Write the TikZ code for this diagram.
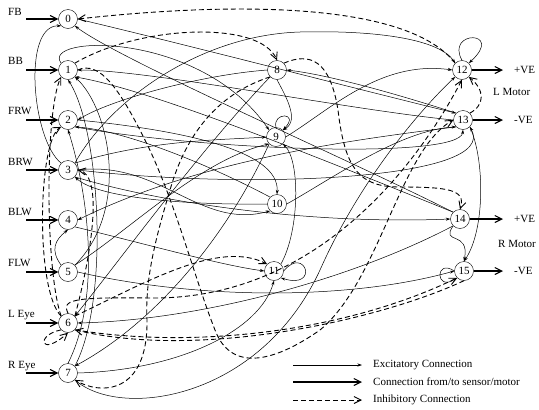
\documentclass[tikz,border=0pt]{standalone}
\usepackage{fontspec}
\setmainfont{Liberation Serif}
\usetikzlibrary{arrows.meta}

\begin{document}
\begin{tikzpicture}[
  x=1pt, y=-1pt,
  font=\fontsize{11}{13}\selectfont,
  neuron/.style={circle, draw, fill=white, minimum size=19pt, inner sep=0pt},
  excite/.style={-{Stealth[length=4.5pt,width=3pt]}, line width=0.5pt},
  sensor/.style={-{Straight Barb[length=7pt,width=7pt]}, line width=1.1pt},
  inhib/.style={-{Straight Barb[length=7pt,width=7pt]}, line width=0.9pt, dash pattern=on 5pt off 3pt},
  tag/.style={anchor=base west, inner sep=0pt}
]
\useasboundingbox (0,0) rectangle (539,410);

% --- sensor inputs (left column) ---
\node[neuron] (n0) at (68,19)  {0};
\node[neuron] (n1) at (68,70)  {1};
\node[neuron] (n2) at (68,120) {2};
\node[neuron] (n3) at (68,170) {3};
\node[neuron] (n4) at (68,220) {4};
\node[neuron] (n5) at (68,272) {5};
\node[neuron] (n6) at (68,323) {6};
\node[neuron] (n7) at (68,373) {7};

% --- hidden units ---
\node[neuron] (n8)  at (277,70)  {8};
\node[neuron] (n9)  at (276,137) {9};
\node[neuron] (n10) at (277,204) {10};
\node[neuron] (n11) at (274,271) {11};

% --- motor units ---
\node[neuron] (n12) at (462,70)  {12};
\node[neuron] (n13) at (463,120) {13};
\node[neuron] (n14) at (460,219) {14};
\node[neuron] (n15) at (464,271) {15};

% sensor labels and input arrows
\node[tag] (fb)   at (8,15)  {FB};
\node[tag] (bb)   at (8,64)  {BB};
\node[tag] (frw)  at (8,114) {FRW};
\node[tag] (brw)  at (8,165) {BRW};
\node[tag] (blw)  at (8,215) {BLW};
\node[tag] (flw)  at (8,266) {FLW};
\node[tag] (leye) at (8,317) {L Eye};
\node[tag] (reye) at (8,368) {R Eye};
\coordinate (s0) at (26,19);
\coordinate (s1) at (26,70);
\coordinate (s2) at (26,120);
\coordinate (s3) at (26,170);
\coordinate (s4) at (26,220);
\coordinate (s5) at (26,272);
\coordinate (s6) at (26,323);
\coordinate (s7) at (26,373);
\draw[sensor] (s0) -- (n0);
\draw[sensor] (s1) -- (n1);
\draw[sensor] (s2) -- (n2);
\draw[sensor] (s3) -- (n3);
\draw[sensor] (s4) -- (n4);
\draw[sensor] (s5) -- (n5);
\draw[sensor] (s6) -- (n6);
\draw[sensor] (s7) -- (n7);

% motor outputs
\coordinate (m12) at (503,70);
\coordinate (m13) at (503,120);
\coordinate (m14) at (503,219);
\coordinate (m15) at (503,271);
\draw[sensor] (n12) -- (m12);
\draw[sensor] (n13) -- (m13);
\draw[sensor] (n14) -- (m14);
\draw[sensor] (n15) -- (m15);
\node[anchor=west, inner sep=0pt] (lp) at (514,70)  {+VE};
\node[anchor=west, inner sep=0pt] (ln) at (514,120) {-VE};
\node[anchor=west, inner sep=0pt] (rp) at (514,219) {+VE};
\node[anchor=west, inner sep=0pt] (rn) at (514,271) {-VE};
\node[anchor=west, inner sep=0pt] (lmotor) at (493,92)  {L Motor};
\node[anchor=west, inner sep=0pt] (rmotor) at (498,244) {R Motor};

% --- excitatory connections ---
\draw[excite] (n0.east) .. controls (200,48) and (380,95) .. (n13.north west);
\draw[excite] (n14.north west) .. controls (350,160) and (120,60) .. (n0.south east);
\draw[excite] (n3.north west) .. controls (32,140) and (22,25) .. (n0.south west);
\draw[excite] (n1.north west) .. controls (40,35) and (200,30) .. (n9.north west);
\draw[excite] (n8.west) .. controls (200,75) and (110,100) .. (n2.east);
\draw[excite] (n13.west) .. controls (350,110) and (150,70) .. (n1.east);
\draw[excite] (n14.north west) .. controls (300,150) and (150,90) .. (n1.south east);
\draw[excite] (n7.north east) .. controls (110,300) and (100,130) .. (n1.south);
\draw[excite] (n5.north east) .. controls (130,210) and (110,110) .. (n1.south east);
\draw[excite] (n3.north east) .. controls (110,100) and (200,35) .. (300,32) .. controls (380,30) and (440,40) .. (n12.north west);
\draw[excite] (n2.east) .. controls (180,130) and (280,150) .. (n10.north);
\draw[excite] (n8.south) .. controls (285,95) and (300,120) .. (n9.north east);
\draw[excite] (n3.north east) .. controls (150,140) and (220,140) .. (n9.west);
\draw[excite] (n10.west) .. controls (200,205) and (100,200) .. (n3.south east);
\draw[excite] (n3.east) .. controls (160,160) and (200,230) .. (n10.south west);
\draw[excite] (n13.south west) .. controls (350,140) and (200,160) .. (n4.east);
\draw[excite] (n4.south east) .. controls (150,245) and (220,265) .. (n11.west);
\draw[excite] (n3.south east) .. controls (150,200) and (300,225) .. (n14.west);
\draw[excite] (n5.north east) .. controls (130,230) and (200,160) .. (n9.south west);
\draw[excite] (n9.south west) .. controls (230,230) and (160,320) .. (n7.north east);
\draw[excite] (n7.south east) .. controls (120,420) and (260,400) .. (320,270) .. controls (360,180) and (420,110) .. (n12.south west);
\draw[excite] (n7.east) .. controls (180,370) and (260,330) .. (n11.south);
\draw[excite] (n14.south west) .. controls (350,280) and (200,320) .. (n6.east);
\draw[excite] (n5.east) .. controls (200,300) and (350,300) .. (n15.west);
\draw[excite] (n10.east) .. controls (330,180) and (400,130) .. (n13.south west);
\draw[excite] (n11.north east) .. controls (300,230) and (300,160) .. (n9.south east);
\draw[excite] (n13.south east) .. controls (485,160) and (485,230) .. (n15.north);
\draw[excite] (n14.south west) .. controls (440,245) and (470,230) .. (n15.north);
\draw[excite] (n2.south east) .. controls (200,150) and (460,160) .. (n13.south);
\draw[excite] (n3.east) .. controls (250,190) and (500,180) .. (n13.south east);
\draw[excite] (n9.east) .. controls (330,110) and (380,60) .. (n12.west);
\draw[excite] (n13.north west) .. controls (400,95) and (330,75) .. (n8.east);
\draw[excite] (n8.south west) .. controls (200,150) and (120,260) .. (n6.north east);
\draw[excite] (n10.north west) .. controls (200,160) and (120,130) .. (n2.south east);
\draw[excite] (n5.north west) .. controls (50,250) and (55,240) .. (n4.south);
\draw[excite] (n7.north) .. controls (100,300) and (90,200) .. (n2.south);
% self loops
\draw[excite] (n12.north) .. controls (445,30) and (505,30) .. (n12.north east);
\draw[excite] (n11.east) .. controls (305,245) and (320,290) .. (n11.south east);
\draw[excite] (n15.west) .. controls (435,258) and (435,292) .. (n15.south west);
\draw[excite] (n9.north) .. controls (272,112) and (300,112) .. (n9.north east);

% --- inhibitory connections ---
\draw[inhib] (n12.north west) .. controls (410,5) and (250,0) .. (n0.east);
\draw[inhib] (n1.north east) .. controls (140,25) and (260,20) .. (n8.north);
\draw[inhib] (n8.north east) .. controls (310,52) and (330,60) .. (338,110) .. controls (345,170) and (360,187) .. (400,187) .. controls (450,187) and (466,190) .. (n14.north);
\draw[inhib] (n8.south west) .. controls (230,90) and (190,120) .. (170,190) .. controls (155,240) and (145,280) .. (147,320) .. controls (148,395) and (100,395) .. (n7.south east);
\draw[inhib] (n1.east) .. controls (100,60) and (120,90) .. (145,140) .. controls (175,200) and (195,280) .. (215,330) .. controls (230,370) and (270,365) .. (320,330) .. controls (380,280) and (400,150) .. (n13.west);
\draw[inhib] (n6.north west) .. controls (35,290) and (38,140) .. (n2.south west);
\draw[inhib] (n6.north west) .. controls (45,270) and (45,110) .. (n1.south west);
\draw[inhib] (n6.south west) .. controls (35,335) and (40,358) .. (n6.south);
\draw[inhib] (n6.north east) .. controls (150,280) and (220,240) .. (n11.north west);
\draw[inhib] (n6.north) .. controls (62,300) and (70,297) .. (150,298) .. controls (320,300) and (420,160) .. (n12.south);
\draw[inhib] (n6.south east) .. controls (200,350) and (350,330) .. (n15.south west);
\draw[inhib] (n15.south) .. controls (380,320) and (200,360) .. (n6.south east);
\draw[inhib] (n6.north east) .. controls (90,260) and (105,175) .. (n3.east);
\draw[inhib] (n13.north east) .. controls (485,105) and (485,90) .. (n12.south east);

% --- legend ---
\node[anchor=west, inner sep=0pt] (kex) at (373,365) {Excitatory Connection};
\node[anchor=west, inner sep=0pt] (kse) at (373,382) {Connection from/to sensor/motor};
\node[anchor=west, inner sep=0pt] (kin) at (373,400) {Inhibitory Connection};
\coordinate (kexa) at (293,365);
\coordinate (kexb) at (362,365);
\coordinate (ksea) at (293,382);
\coordinate (kseb) at (362,382);
\coordinate (kina) at (293,400);
\coordinate (kinb) at (362,400);
\draw[excite] (kexa) -- (kexb);
\draw[sensor] (ksea) -- (kseb);
\draw[inhib] (kina) -- (kinb);

\end{tikzpicture}
\end{document}
